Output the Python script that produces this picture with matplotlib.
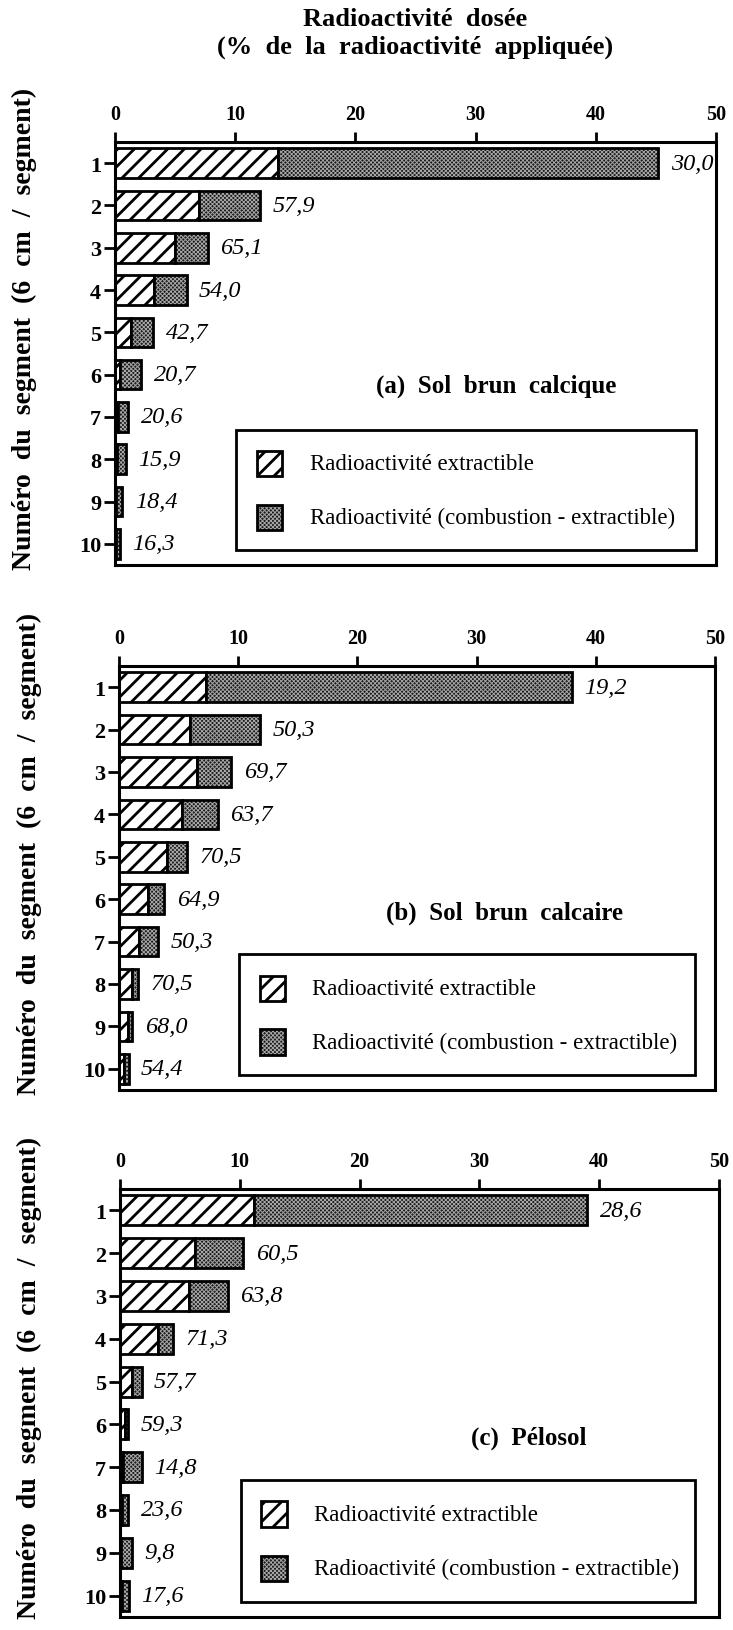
import numpy as np
import matplotlib
matplotlib.use("Agg")
import matplotlib.pyplot as plt
from matplotlib.patches import Rectangle

# ---------------- data ----------------
segments = np.arange(1, 11)

# total radioactivity (combustion) per segment, % of applied radioactivity
total_a = [45.2, 12.1, 7.7, 5.95, 3.2, 2.2, 1.1, 0.9, 0.6, 0.4]
total_b = [38.0, 11.85, 9.4, 8.3, 5.7, 3.8, 3.3, 1.6, 1.1, 0.8]
total_c = [39.0, 10.3, 9.0, 4.4, 1.8, 0.7, 1.8, 0.7, 1.0, 0.75]

# extractible share of the total, %
pct_a = [30.0, 57.9, 65.1, 54.0, 42.7, 20.7, 20.6, 15.9, 18.4, 16.3]
pct_b = [19.2, 50.3, 69.7, 63.7, 70.5, 64.9, 50.3, 70.5, 68.0, 54.4]
pct_c = [28.6, 60.5, 63.8, 71.3, 57.7, 59.3, 14.8, 23.6, 9.8, 17.6]

panel_titles = ["(a)  Sol  brun  calcique", "(b)  Sol  brun  calcaire", "(c)  Pélosol"]
legend_labels = ["Radioactivité extractible", "Radioactivité (combustion - extractible)"]
x_ticks = [0, 10, 20, 30, 40, 50]

# ---------------- style ----------------
plt.rcParams["font.family"] = ["Liberation Serif", "DejaVu Serif"]
plt.rcParams["hatch.linewidth"] = 2.0

W, H = 733, 1631
fig = plt.figure(figsize=(W / 100, H / 100), dpi=100)


def px_rect(l, r, t, b):
    return [l / W, 1 - b / H, (r - l) / W, (b - t) / H]


BAR_H = 0.7
EDGE_LW = 2.0
STIPPLE = "#1a1a1a"
STIPPLE_DOTS = "#a6a6a6"
STIPPLE_HATCH = "xxxxxxxx"


def thin_hatch(patches):
    for p in patches:
        if hasattr(p, "set_hatch_linewidth"):
            p.set_hatch_linewidth(0.7)


def stipple_bar(ax, y, width, left):
    bars = ax.barh(y, width, left=left, height=BAR_H, color=STIPPLE,
                   edgecolor=STIPPLE_DOTS, hatch=STIPPLE_HATCH, linewidth=0)
    thin_hatch(bars)
    ax.barh(y, width, left=left, height=BAR_H, fill=False,
            edgecolor="black", linewidth=EDGE_LW)


def draw_panel(ax, total, pct, title, title_x, title_y, box_right):
    total = np.asarray(total)
    extract = total * np.asarray(pct) / 100
    rest = total - extract

    ax.barh(segments, extract, height=BAR_H, color="white",
            edgecolor="black", hatch="//", linewidth=EDGE_LW)
    stipple_bar(ax, segments, rest, extract)

    for seg, tot, p in zip(segments, total, pct):
        ax.annotate(f"{p:.1f}".replace(".", ","), xy=(tot, seg),
                    xytext=(9, 0), textcoords="offset points",
                    ha="left", va="center", fontsize=17.5, fontstyle="italic")

    ax.set_xlim(0, 50)
    ax.set_ylim(10.5, 0.5)
    ax.xaxis.tick_top()
    ax.set_xticks(x_ticks)
    ax.set_yticks(segments)
    ax.tick_params(axis="x", direction="out", length=7, width=2.0,
                   pad=6, labelsize=14.5)
    ax.tick_params(axis="y", direction="out", length=8, width=2.0,
                   pad=2, labelsize=16)
    for lab in ax.get_xticklabels() + ax.get_yticklabels():
        lab.set_fontweight("bold")
    for sp in ax.spines.values():
        sp.set_linewidth(2.2)

    ax.set_ylabel("Numéro  du  segment  (6  cm  /  segment)",
                  fontsize=20, fontweight="bold")
    ax.yaxis.set_label_coords(-0.13, 0.56)

    ax.text(title_x, title_y, title, ha="center", va="center",
            fontsize=18, fontweight="bold")

    # legend box
    ax.add_patch(Rectangle((10.1, 7.3), box_right - 10.1, 2.85, fill=False,
                           edgecolor="black", linewidth=2.0, zorder=3))
    ax.add_patch(Rectangle((11.8, 8.1 - 0.3), 2.1, 0.6, facecolor="white",
                           edgecolor="black", hatch="//", linewidth=EDGE_LW, zorder=3))
    sq = Rectangle((11.8, 9.37 - 0.3), 2.1, 0.6, facecolor=STIPPLE,
                   edgecolor=STIPPLE_DOTS, hatch=STIPPLE_HATCH, linewidth=0, zorder=3)
    thin_hatch([sq])
    ax.add_patch(sq)
    ax.add_patch(Rectangle((11.8, 9.37 - 0.3), 2.1, 0.6, fill=False,
                           edgecolor="black", linewidth=EDGE_LW, zorder=3))
    ax.text(16.2, 8.1, legend_labels[0], ha="left", va="center", fontsize=16.5)
    ax.text(16.2, 9.37, legend_labels[1], ha="left", va="center", fontsize=16.5)


ax_a = fig.add_axes(px_rect(115, 716, 143, 566))
ax_b = fig.add_axes(px_rect(119, 715, 667, 1091))
ax_c = fig.add_axes(px_rect(120, 719, 1190, 1618))

draw_panel(ax_a, total_a, pct_a, panel_titles[0], 31.7, 6.25, 48.3)
draw_panel(ax_b, total_b, pct_b, panel_titles[1], 32.3, 6.3, 48.3)
draw_panel(ax_c, total_c, pct_c, panel_titles[2], 34.1, 6.3, 48.0)

fig.text(415 / W, 1 - 19 / H, "Radioactivité  dosée", ha="center", va="center",
         fontsize=19, fontweight="bold")
fig.text(415 / W, 1 - 47 / H, "(%  de  la  radioactivité  appliquée)",
         ha="center", va="center", fontsize=19, fontweight="bold")

fig.savefig("out.png", dpi=100)
